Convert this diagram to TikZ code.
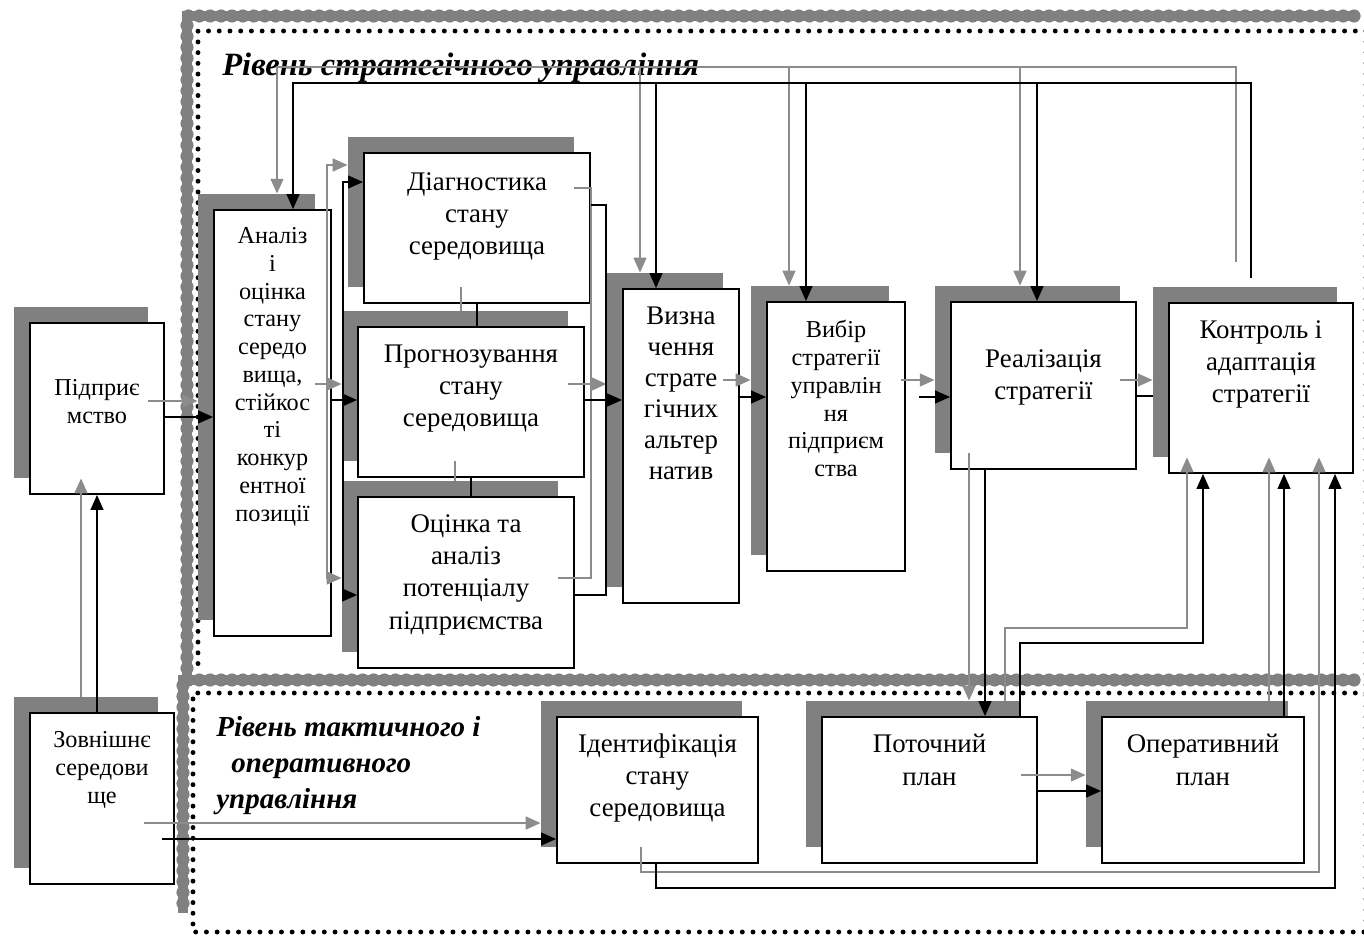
\documentclass[tikz,border=0pt]{standalone}
\usepackage{fontspec}
\setmainfont{Liberation Serif}
\usetikzlibrary{arrows.meta,positioning}
\definecolor{tin}{HTML}{808080}
\definecolor{sira}{HTML}{8C8C8C}

\begin{document}
\begin{tikzpicture}[x=0.02cm,y=-0.02cm,>={Triangle[length=8.5pt,width=7.2pt]}]
\tikzstyle{smuha}=[tin,line width=7.5pt,dash pattern=on 0pt off 6.2pt,line cap=round]
\tikzstyle{smuha2}=[tin,line width=5.5pt]
\tikzstyle{krapky}=[black,line width=2.8pt,dash pattern=on 0pt off 6.1pt,line cap=round]
\tikzstyle{ten}=[fill=tin,inner sep=0pt]
\tikzstyle{blok}=[draw,fill=white,line width=1pt,inner sep=0pt]
\tikzstyle{napys}=[inner sep=0pt,align=center,font=\fontsize{15.3}{18.4}\selectfont]
\tikzstyle{malyi}=[inner sep=0pt,align=center,font=\fontsize{13.8}{15.8}\selectfont]
\tikzstyle{riven}=[inner sep=0pt,align=left,font=\fontsize{18.5}{22}\selectfont\bfseries\itshape]
\tikzstyle{riven2}=[inner sep=0pt,align=left,font=\fontsize{16.5}{20.4}\selectfont\bfseries\itshape]
\tikzstyle{chor}=[black,line width=1.1pt]
\tikzstyle{sir}=[sira,line width=1.4pt]
\useasboundingbox (0,0) rectangle (1364,936);

% ramky rivniv
\draw[smuha2] (1354,16) -- (187,16) -- (187,675);
\draw[smuha2] (1354,680) -- (183,680) -- (183,913);
\draw[smuha] (1354,16) -- (187,16) -- (187,675);
\draw[smuha] (1354,680) -- (183,680) -- (183,913);
\draw[krapky] (1366,31) -- (198,31) -- (198,670);
\draw[krapky] (1366,693) -- (193,693) -- (193,932) -- (1366,932);
\draw[krapky] (1366,31) -- (1366,932);
\node[riven,anchor=base west] (strat-t) at (222,75) {Рівень стратегічного управління};
\node[riven2,anchor=north west] (takt-t) at (216,716)
  {Рівень тактичного і\\\hspace*{0.3cm}оперативного\\управління};

% bloky
\node[ten,minimum width=2.68cm,minimum height=3.42cm] (pidpr-s) at (81,392.5) {};
\node[blok,minimum width=2.68cm,minimum height=3.42cm] (pidpr) at (97,408.5) {};
\node[malyi,below=1.14cm of pidpr.north] (pidpr-t) {Підприє\\мство};

\node[ten,minimum width=2.88cm,minimum height=3.42cm] (zovn-s) at (86,782.5) {};
\node[blok,minimum width=2.88cm,minimum height=3.42cm] (zovn) at (102,798.5) {};
\node[malyi,below=0.38cm of zovn.north] (zovn-t) {Зовнішнє\\середови\\ще};

\node[ten,minimum width=2.34cm,minimum height=8.52cm] (analiz-s) at (256.5,407) {};
\node[blok,minimum width=2.34cm,minimum height=8.52cm] (analiz) at (272.5,423) {};
\node[malyi,below=0.36cm of analiz.north] (analiz-t)
  {Аналіз\\і\\оцінка\\стану\\середо\\вища,\\стійкос\\ті\\конкур\\ентної\\позиції};

\node[ten,minimum width=4.52cm,minimum height=3cm] (diagn-s) at (461,212) {};
\node[blok,minimum width=4.52cm,minimum height=3cm] (diagn) at (477,228) {};
\node[napys,below=0.4cm of diagn.north] (diagn-t) {Діагностика\\стану\\середовища};

\node[ten,minimum width=4.52cm,minimum height=3cm] (prognoz-s) at (455,386) {};
\node[blok,minimum width=4.52cm,minimum height=3cm] (prognoz) at (471,402) {};
\node[napys,below=0.36cm of prognoz.north] (prognoz-t) {Прогнозування\\стану\\середовища};

\node[ten,minimum width=4.32cm,minimum height=3.42cm] (otsinka-s) at (450,566.5) {};
\node[blok,minimum width=4.32cm,minimum height=3.42cm] (otsinka) at (466,582.5) {};
\node[napys,below=0.36cm of otsinka.north] (otsinka-t) {Оцінка та\\аналіз\\потенціалу\\підприємства};

\node[ten,minimum width=2.32cm,minimum height=6.28cm] (vyznach-s) at (665,430) {};
\node[blok,minimum width=2.32cm,minimum height=6.28cm] (vyznach) at (681,446) {};
\node[napys,below=0.36cm of vyznach.north,font=\fontsize{15.3}{17.7}\selectfont] (vyznach-t)
  {Визна\\чення\\страте\\гічних\\альтер\\натив};

\node[ten,minimum width=2.76cm,minimum height=5.38cm] (vybir-s) at (820,420.5) {};
\node[blok,minimum width=2.76cm,minimum height=5.38cm] (vybir) at (836,436.5) {};
\node[malyi,below=0.38cm of vybir.north] (vybir-t) {Вибір\\стратегії\\управлін\\ня\\підприєм\\ства};

\node[ten,minimum width=3.7cm,minimum height=3.34cm] (realiz-s) at (1027.5,369.5) {};
\node[blok,minimum width=3.7cm,minimum height=3.34cm] (realiz) at (1043.5,385.5) {};
\node[napys,below=0.96cm of realiz.north] (realiz-t) {Реалізація\\стратегії};

\node[ten,minimum width=3.68cm,minimum height=3.4cm] (kontrol-s) at (1245,372) {};
\node[blok,minimum width=3.68cm,minimum height=3.4cm] (kontrol) at (1261,388) {};
\node[napys,below=0.36cm of kontrol.north] (kontrol-t) {Контроль і\\адаптація\\стратегії};

\node[ten,minimum width=4.02cm,minimum height=2.92cm] (ident-s) at (641.5,774) {};
\node[blok,minimum width=4.02cm,minimum height=2.92cm] (ident) at (657.5,790) {};
\node[napys,below=0.34cm of ident.north] (ident-t) {Ідентифікація\\стану\\середовища};

\node[ten,minimum width=4.3cm,minimum height=2.92cm] (potoch-s) at (913.5,774) {};
\node[blok,minimum width=4.3cm,minimum height=2.92cm] (potoch) at (929.5,790) {};
\node[napys,below=0.36cm of potoch.north] (potoch-t) {Поточний\\план};

\node[ten,minimum width=4.04cm,minimum height=2.92cm] (operat-s) at (1187,774) {};
\node[blok,minimum width=4.04cm,minimum height=2.92cm] (operat) at (1203,790) {};
\node[napys,below=0.36cm of operat.north] (operat-t) {Оперативний\\план};

\coordinate (zvbl) at (1251,278);
\coordinate (zvsir) at (1236,262);

% siri zvjazky
\draw[sir,->] (pidpr-s.east |- 0,401) -- (analiz-s.west |- 0,401);
\draw[sir,->] (zovn-s.north -| pidpr-s.south) -- (pidpr-s.south);
\draw[sir,->] (zovn.east |- 0,823) ++(-31,0) -- (ident-s.west |- 0,823);
\draw[sir,->] (analiz-s.east |- 0,384) -- (prognoz-s.west |- 0,384);
\draw[sir,->] (analiz-s.east |- 0,384) -| (327,165) -- (diagn-s.west |- 0,165);
\draw[sir,->] (analiz-s.east |- 0,384) -| (327,578) -- (otsinka-s.west |- 0,578);
\draw[sir] (diagn-s.south) -- (diagn-s.south |- prognoz-s.north);
\draw[sir] (prognoz-s.south) -- (prognoz-s.south |- otsinka-s.north);
\draw[sir] (diagn-s.east |- 0,188) -| (591,578) -- (otsinka-s.east |- 0,578);
\draw[sir,->] (prognoz-s.east |- 0,384) -- (vyznach-s.west |- 0,384);
\draw[sir,->] (vyznach-s.east |- 0,380) -- (vybir-s.west |- 0,380);
\draw[sir,->] (vybir-s.east |- 0,380) ++(12,0) -- (realiz-s.west |- 0,380);
\draw[sir,->] (realiz-s.east |- 0,380) -- (kontrol-s.west |- 0,380);
\draw[sir,->] (zvsir) |- (277,67) -- (analiz-s.north -| 277,0);
\draw[sir,->] (640,67) -- (vyznach-s.north -| 640,0);
\draw[sir,->] (789,67) -- (vybir-s.north -| 789,0);
\draw[sir,->] (1020,67) -- (realiz-s.north -| 1020,0);
\draw[sir,->] (realiz-s.south -| 969,0) -- (potoch-s.north -| 969,0);
\draw[sir,->] (potoch-s.north -| 1005,0) |- (1187,628) -- (kontrol-s.south -| 1187,0);
\draw[sir,->] (operat-s.north -| 1269,0) -- (kontrol-s.south -| 1269,0);
\draw[sir,->] (ident-s.south -| 641,0) |- (1319,872) -- (kontrol-s.south -| 1319,0);
\draw[sir,->] (potoch-s.east |- 0,775) -- (operat-s.west |- 0,775);

% chorni zvjazky
\draw[chor,->] (pidpr.east |- 0,417) -- (analiz.west |- 0,417);
\draw[chor,->] (zovn.north -| pidpr.south) -- (pidpr.south);
\draw[chor,->] (zovn.east |- 0,839) ++(-13,0) -- (ident.west |- 0,839);
\draw[chor,->] (analiz.east |- 0,400) -- (prognoz.west |- 0,400);
\draw[chor,->] (analiz.east |- 0,400) -| (343,182) -- (diagn.west |- 0,182);
\draw[chor,->] (analiz.east |- 0,400) -| (343,595) -- (otsinka.west |- 0,595);
\draw[chor] (diagn.south) -- (diagn.south |- prognoz.north);
\draw[chor] (prognoz.south) -- (prognoz.south |- otsinka.north);
\draw[chor] (diagn.east |- 0,205) -| (606,595) -- (otsinka.east |- 0,595);
\draw[chor,->] (prognoz.east |- 0,400) -- (vyznach.west |- 0,400);
\draw[chor,->] (vyznach.east |- 0,397) -- (vybir.west |- 0,397);
\draw[chor,->] (vybir.east |- 0,397) ++(13,0) -- (realiz.west |- 0,397);
\draw[chor] (realiz.east |- 0,396) -- (kontrol-s.west |- 0,396);
\draw[chor,->] (zvbl) |- (293,83) -- (analiz.north -| 293,0);
\draw[chor,->] (656,83) -- (vyznach.north -| 656,0);
\draw[chor,->] (806,83) -- (vybir.north -| 806,0);
\draw[chor,->] (1037,83) -- (realiz.north -| 1037,0);
\draw[chor,->] (realiz.south -| 985,0) -- (potoch.north -| 985,0);
\draw[chor,->] (potoch.north -| 1020,0) |- (1203,643) -- (kontrol.south -| 1203,0);
\draw[chor,->] (operat.north -| 1284,0) -- (kontrol.south -| 1284,0);
\draw[chor,->] (ident.south -| 656,0) |- (1335,888) -- (kontrol.south -| 1335,0);
\draw[chor,->] (potoch.east |- 0,791) -- (operat.west |- 0,791);
\end{tikzpicture}
\end{document}
